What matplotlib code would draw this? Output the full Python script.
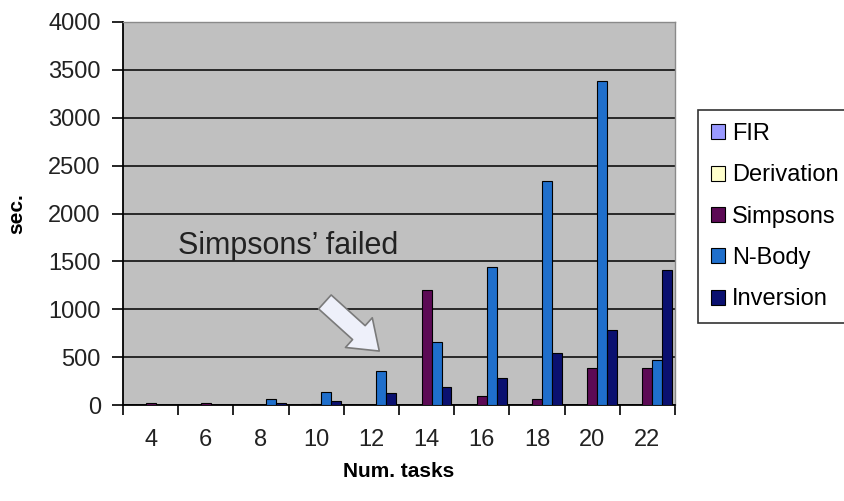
import numpy as np
import matplotlib
matplotlib.use("Agg")
from matplotlib import pyplot as plt

plt.rcParams['font.family'] = ['Liberation Sans', 'DejaVu Sans']

tasks = ['4', '6', '8', '10', '12', '14', '16', '18', '20', '22']
series = ['FIR', 'Derivation', 'Simpsons', 'N-Body', 'Inversion']
fir = [0, 0, 0, 0, 0, 0, 0, 0, 0, 0]
derivation = [0, 0, 0, 0, 0, 0, 0, 0, 0, 0]
simpsons = [20, 20, 0, 15, 0, 1200, 95, 60, 385, 385]
nbody = [0, 0, 60, 140, 360, 660, 1445, 2335, 3380, 465]
inversion = [0, 0, 20, 40, 125, 185, 285, 545, 785, 1415]
colors = ['#9999FF', '#FFFFCC', '#5C0A55', '#1F6FCC', '#0A1070']

fig = plt.figure(figsize=(8.44, 5.01), dpi=100)
ax = fig.add_axes([123 / 844, 1 - 405 / 501, 552 / 844, 383 / 501])
ax.set_facecolor('#C0C0C0')

x = np.arange(len(tasks))
w = 0.18
for i, (name, vals) in enumerate(zip(series, [fir, derivation, simpsons, nbody, inversion])):
    ax.bar(x + (i - 2) * w, vals, width=w, color=colors[i], edgecolor='black',
           linewidth=0.8, label=name, zorder=3)

ax.set_xlim(-0.5, len(tasks) - 0.5)
ax.set_ylim(0, 4000)
ax.set_yticks(np.arange(0, 4001, 500))
ax.yaxis.grid(True, color='black', linewidth=1.1, zorder=1)
ax.set_axisbelow(True)

ax.set_xticks(x)
ax.set_xticklabels(tasks)
ax.set_xticks(np.arange(-0.5, len(tasks), 1), minor=True)
ax.tick_params(axis='x', which='major', length=0, pad=17, labelsize=17, colors='#222222')
ax.tick_params(axis='x', which='minor', length=7, width=1.2, color='black')
ax.tick_params(axis='y', length=8, width=1.2, pad=8, labelsize=17, colors='#222222')
ax.tick_params(axis='both', color='black')

for s in ['left', 'bottom']:
    ax.spines[s].set_color('black')
    ax.spines[s].set_linewidth(1.3)
for s in ['top', 'right']:
    ax.spines[s].set_color('#8a8a8a')
    ax.spines[s].set_linewidth(1.0)

ax.set_xlabel('Num. tasks', fontsize=15, fontweight='bold', labelpad=8)
ax.set_ylabel('sec.', fontsize=15, fontweight='bold', labelpad=16)

ax.text(0.30, 0.415, "Simpsons\u2019 failed", transform=ax.transAxes, fontsize=22,
        ha='center', va='center', color='#222222', zorder=5)
ax.annotate('', xy=(0.468, 0.136), xytext=(0.362, 0.274),
            xycoords='axes fraction', textcoords='axes fraction',
            arrowprops=dict(arrowstyle='simple,head_width=1.6,head_length=1.1,tail_width=0.75',
                            fc='#EEF0FA', ec='#7a7a7a', lw=1.2, mutation_scale=18),
            zorder=5)

leg = fig.legend(loc='upper left', bbox_to_anchor=(698 / 844, 1 - 110 / 501),
                 bbox_transform=fig.transFigure, borderaxespad=0, fontsize=17,
                 handlelength=0.6, handleheight=0.6, handletextpad=0.3,
                 labelspacing=0.82, borderpad=0.55, fancybox=False, frameon=True)
leg.get_frame().set_edgecolor('black')
leg.get_frame().set_linewidth(1.2)

fig.savefig('out.png', dpi=100)
